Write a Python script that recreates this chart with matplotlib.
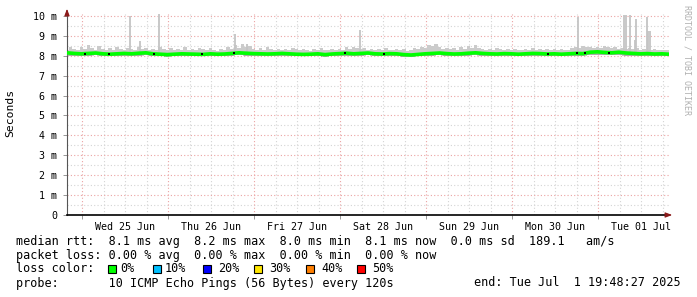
import datetime as dt
import numpy as np
import matplotlib
matplotlib.use("Agg")
import matplotlib.pyplot as plt
import matplotlib.dates as mdates
from matplotlib.patches import Rectangle

# smokeping graph, last 7 days, values in ms
end_time = dt.datetime(2025, 7, 1, 19, 48, 27)
start_time = end_time - dt.timedelta(days=7)

hours = list(range(0, 169, 2))  # hours since start, median line
smoke_hours = list(range(0, 169))  # hourly smoke

median_ms = [8.15, 8.12, 8.10, 8.12, 8.14, 8.10, 8.08, 8.10, 8.12, 8.10, 8.13,
             8.15, 8.10, 8.08, 8.06, 8.08, 8.10, 8.09, 8.08, 8.07, 8.10, 8.08,
             8.09, 8.12, 8.15, 8.13, 8.11, 8.10, 8.09, 8.10, 8.12, 8.10, 8.08,
             8.07, 8.08, 8.10, 8.06, 8.09, 8.11, 8.13, 8.10, 8.12, 8.14, 8.10,
             8.09, 8.11, 8.10, 8.06, 8.04, 8.07, 8.10, 8.12, 8.14, 8.11, 8.09,
             8.10, 8.13, 8.15, 8.12, 8.10, 8.09, 8.11, 8.10, 8.08, 8.10, 8.12,
             8.11, 8.09, 8.10, 8.08, 8.10, 8.12, 8.11, 8.18, 8.20, 8.17, 8.15,
             8.18, 8.14, 8.12, 8.10, 8.11, 8.09, 8.10, 8.08]

smoke_hi = [8.30, 8.42, 8.36, 8.28, 8.45, 8.33, 8.52, 8.40, 8.31, 8.48, 8.36, 8.27, 8.39,
            8.30, 8.46, 8.34, 8.29, 8.41, 8.35, 8.27, 8.44, 8.32, 8.38, 8.28, 8.36, 8.30,
            8.43, 8.33, 8.27, 8.39, 8.31, 8.36, 8.28, 8.44, 8.30, 8.35, 8.27, 8.40, 8.33,
            8.29, 8.37, 8.31, 8.26, 8.34, 8.30, 8.45, 8.36, 8.52, 8.41, 8.58, 8.44, 8.48,
            8.35, 8.31, 8.38, 8.29, 8.42, 8.33, 8.28, 8.36, 8.30, 8.34, 8.27, 8.40, 8.32,
            8.29, 8.35, 8.31, 8.26, 8.33, 8.29, 8.38, 8.31, 8.27, 8.35, 8.30, 8.36, 8.28,
            8.42, 8.35, 8.46, 8.38, 8.33, 8.40, 8.30, 8.36, 8.28, 8.33, 8.30, 8.37, 8.31,
            8.27, 8.34, 8.29, 8.33, 8.26, 8.31, 8.38, 8.33, 8.45, 8.40, 8.52, 8.47, 8.58,
            8.43, 8.36, 8.41, 8.33, 8.37, 8.30, 8.42, 8.34, 8.48, 8.38, 8.56, 8.40, 8.33,
            8.29, 8.35, 8.30, 8.38, 8.32, 8.27, 8.34, 8.29, 8.36, 8.30, 8.27, 8.33, 8.29,
            8.38, 8.31, 8.35, 8.28, 8.33, 8.30, 8.36, 8.29, 8.34, 8.28, 8.31, 8.38, 8.44,
            8.40, 8.48, 8.42, 8.46, 8.39, 8.45, 8.40, 8.50, 8.43, 8.38, 8.44, 8.36, 8.41,
            8.34, 8.39, 8.32, 8.37, 8.30, 8.35, 8.31, 8.28, 8.33, 8.29, 8.31, 8.27, 8.30]

smoke_lo = [8.00, 8.01, 7.99, 8.00, 8.02, 7.98, 7.97, 8.00, 8.01, 7.99, 8.00,
            8.02, 7.99, 7.98, 7.96, 7.98, 8.00, 7.99, 7.98, 7.97, 8.00, 7.98,
            7.99, 8.01, 8.02, 8.01, 8.00, 7.99, 7.98, 8.00, 8.01, 7.99, 7.98,
            7.97, 7.98, 8.00, 7.96, 7.98, 8.00, 8.01, 7.99, 8.00, 8.02, 7.99,
            7.98, 8.00, 7.99, 7.96, 7.95, 7.97, 7.99, 8.01, 8.02, 8.00, 7.98,
            7.99, 8.01, 8.02, 8.00, 7.99, 7.98, 8.00, 7.99, 7.97, 7.99, 8.01,
            8.00, 7.98, 7.99, 7.97, 7.99, 8.01, 8.00, 8.04, 8.06, 8.04, 8.02,
            8.04, 8.01, 8.00, 7.99, 8.00, 7.98, 7.99, 7.98]

# single large pings sticking out of the smoke (hour, top in ms)
spike_hours = [17.6, 20.4, 25.7, 46.9, 50.2, 81.8, 142.6, 155.5, 156.1, 157.0,
               158.4, 158.9, 161.9, 162.2, 162.6]
spike_top = [10.0, 8.75, 10.1, 9.1, 8.6, 9.3, 9.95, 10.05, 10.05, 10.05,
             8.8, 9.85, 9.95, 9.25, 9.25]

dot_hours = [5.0, 11.7, 24.3, 37.7, 46.6, 77.6, 88.5, 134.2, 142.3, 144.6, 151.3]

loss_labels = ["0%", "10%", "20%", "30%", "40%", "50%"]
loss_colors = ["#00ff00", "#00c0ff", "#0000ff", "#ffe600", "#ff7f00", "#ff0000"]

y_ticks = list(range(0, 11))
y_labels = ["0"] + [f"{v} m" for v in range(1, 11)]

W, H = 697, 297
mono = "DejaVu Sans Mono"

def t(h):
    return mdates.date2num(start_time + dt.timedelta(hours=float(h)))

x = [t(h) for h in hours]
xs = [t(h) for h in smoke_hours]

fig = plt.figure(figsize=(W / 100, H / 100), dpi=100)
fig.patch.set_facecolor("white")
ax = fig.add_axes([67 / W, (H - 215) / H, 602 / W, 201 / H])
ax.set_xlim(t(0), t(168))
ax.set_ylim(0, 10.1)

# grid: gray every 0.5 ms / 6 h, red every 1 ms / day
for yv in np.arange(0.5, 10.1, 1.0):
    ax.axhline(yv, color="#d4d4d4", lw=0.8, ls=(0, (1, 2)), zorder=0)
d0 = start_time.replace(hour=0, minute=0, second=0) + dt.timedelta(days=1)
for k in range(-1, 7 * 4 + 1):
    g = d0 + dt.timedelta(hours=6 * k)
    if start_time < g < end_time and g.hour != 0:
        ax.axvline(mdates.date2num(g), color="#d4d4d4", lw=0.8, ls=(0, (1, 2)), zorder=0)
for yv in range(1, 11):
    ax.axhline(yv, color="#eba3a3", lw=0.8, ls=(0, (1, 2)), zorder=0)
for k in range(0, 7):
    g = d0 + dt.timedelta(days=k)
    ax.axvline(mdates.date2num(g), color="#eba3a3", lw=0.8, ls=(0, (1, 2)), zorder=0)

# smoke
lo_hourly = np.interp(smoke_hours, hours, smoke_lo)
ax.fill_between(xs, lo_hourly, smoke_hi, step="mid", color="#cbcbcb", lw=0, zorder=2)
ax.vlines([t(h) for h in spike_hours], 8.2, spike_top, color="#c4c4c4", lw=1.3, zorder=2)
ax.fill_between(x, smoke_lo, median_ms, step="mid",
                color="#8c8c8c", lw=0, zorder=3, alpha=0.5)
ax.plot(x, median_ms, color="#00ff00", lw=2.6, zorder=4, solid_capstyle="butt")
ax.scatter([t(h) for h in dot_hours], np.interp(dot_hours, hours, median_ms),
           s=2.5, marker="s", color="black", zorder=5, lw=0)

# axes
for s in ["top", "right"]:
    ax.spines[s].set_visible(False)
ax.spines["left"].set_color("#555555")
ax.spines["bottom"].set_color("black")
ax.spines["bottom"].set_linewidth(1.2)
ax.annotate("", xy=(67 / W, (H - 6) / H), xytext=(67 / W, (H - 16) / H),
            xycoords="figure fraction",
            arrowprops=dict(arrowstyle="-|>,head_width=0.15,head_length=0.4",
                            color="#8b1a1a", lw=0.8))
ax.annotate("", xy=(675 / W, (H - 215) / H), xytext=(665 / W, (H - 215) / H),
            xycoords="figure fraction",
            arrowprops=dict(arrowstyle="-|>,head_width=0.15,head_length=0.4",
                            color="#8b1a1a", lw=0.8))

ax.set_yticks(y_ticks)
ax.set_yticklabels(y_labels, fontfamily=mono, fontsize=7.2)
ax.tick_params(axis="y", length=3, width=0.6, color="#888888", pad=4)

noon = [mdates.date2num(d0 + dt.timedelta(days=k, hours=12)) for k in range(7)]
ax.set_xticks(noon)
ax.set_xticklabels([(d0 + dt.timedelta(days=k)).strftime("%a %d %b") for k in range(7)],
                   fontfamily=mono, fontsize=7.2)
ax.tick_params(axis="x", length=0, pad=5)
ax.xaxis.set_minor_locator(mdates.HourLocator(byhour=[0]))
ax.tick_params(axis="x", which="minor", length=3, width=0.6, color="#888888")

fig.text(10 / W, 1 - 113 / H, "Seconds", rotation=90, ha="center", va="center",
         fontfamily=mono, fontsize=8.2)
fig.text(687 / W, 1 - 60 / H, "RRDTOOL / TOBI OETIKER", rotation=270, ha="center",
         va="center", fontfamily=mono, fontsize=6, color="#b0b0b0")

# legend text
fs = 8.5
line1 = "median rtt:  8.1 ms avg  8.2 ms max  8.0 ms min  8.1 ms now  0.0 ms sd  189.1   am/s"
line2 = "packet loss: 0.00 % avg  0.00 % max  0.00 % min  0.00 % now"
line4 = "probe:       10 ICMP Echo Pings (56 Bytes) every 120s"
fig.text(16 / W, 1 - 241 / H, line1, ha="left", va="center", fontfamily=mono, fontsize=fs)
fig.text(16 / W, 1 - 255 / H, line2, ha="left", va="center", fontfamily=mono, fontsize=fs)
fig.text(16 / W, 1 - 269 / H, "loss color:", ha="left", va="center", fontfamily=mono, fontsize=fs)
box_x = [108, 153, 203, 254, 306, 357]
txt_x = [120, 165, 218, 269, 321, 372]
for bx, tx, lab, col in zip(box_x, txt_x, loss_labels, loss_colors):
    fig.patches.append(Rectangle((bx / W, (H - 273) / H), 8 / W, 8 / H,
                                 transform=fig.transFigure, facecolor=col,
                                 edgecolor="black", lw=0.8))
    fig.text(tx / W, 1 - 269 / H, lab, ha="left", va="center", fontfamily=mono, fontsize=fs)
fig.text(16 / W, 1 - 283 / H, line4, ha="left", va="center", fontfamily=mono, fontsize=fs)
fig.text(681 / W, 1 - 283 / H, "end: Tue Jul  1 19:48:27 2025", ha="right", va="center",
         fontfamily=mono, fontsize=fs)

fig.savefig("out.png", dpi=100, facecolor="white")
